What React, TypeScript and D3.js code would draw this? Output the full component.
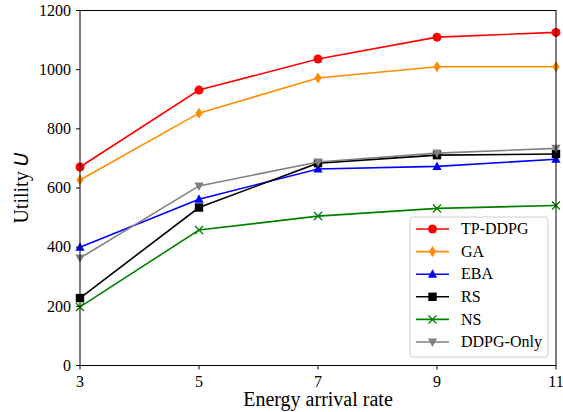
import React from "react";
import * as d3 from "d3";

const xValues = [3, 5, 7, 9, 11];
const tpDdpg = [671, 931, 1036, 1110, 1126];
const ga = [627, 853, 972, 1010, 1010];
const eba = [400, 562, 664, 673, 697];
const rs = [228, 534, 684, 711, 715];
const ns = [198, 458, 505, 531, 541];
const ddpgOnly = [363, 607, 688, 718, 734];
const yTicks = [0, 200, 400, 600, 800, 1000, 1200];
const xTicks = [3, 5, 7, 9, 11];

const seriesNames = ["TP-DDPG", "GA", "EBA", "RS", "NS", "DDPG-Only"];
const seriesData = [tpDdpg, ga, eba, rs, ns, ddpgOnly];
const seriesColors = ["#ff0000", "#ff8c00", "#0000ff", "#000000", "#008000", "#808080"];
const seriesMarkers = ["circle", "diamond", "triangle", "square", "x", "tri_down"];

const W = 563, H = 412;
const L = 80, R = 556, T = 10.5, B = 365.5;
const FONT = "'Liberation Serif', 'DejaVu Serif', serif";

function Marker({ type, x, y, color }: { type: string; x: number; y: number; color: string }) {
  switch (type) {
    case "circle":
      return <circle cx={x} cy={y} r={4.5} fill={color} />;
    case "diamond":
      return <path d={`M${x},${y - 5.5}L${x + 3.6},${y}L${x},${y + 5.5}L${x - 3.6},${y}Z`} fill={color} />;
    case "triangle":
      return <path d={`M${x},${y - 5}L${x + 4.6},${y + 3.5}L${x - 4.6},${y + 3.5}Z`} fill={color} />;
    case "tri_down":
      return <path d={`M${x},${y + 5}L${x + 4.6},${y - 3.5}L${x - 4.6},${y - 3.5}Z`} fill={color} />;
    case "square":
      return <rect x={x - 4.2} y={y - 4.2} width={8.4} height={8.4} fill={color} />;
    case "x":
      return (
        <path d={`M${x - 4},${y - 4}L${x + 4},${y + 4}M${x - 4},${y + 4}L${x + 4},${y - 4}`} stroke={color} strokeWidth={1.4} fill="none" />
      );
    default:
      return null;
  }
}

export default function App() {
  const xs = d3.scaleLinear().domain([3, 11]).range([L, R]);
  const ys = d3.scaleLinear().domain([0, 1200]).range([B, T]);
  const line = d3
    .line<number>()
    .x((_, i) => xs(xValues[i]))
    .y((d) => ys(d));

  const legX = 410, legY = 217, legW = 138, legH = 140;
  const rowY0 = 229, rowStep = 22.6;

  return (
    <svg width={W} height={H} style={{ position: "absolute", left: 0, top: 0 }} fontFamily={FONT}>
      <rect width={W} height={H} fill="#fff" />
      {seriesData.map((s, si) => (
        <g key={si}>
          <path d={line(s) || ""} fill="none" stroke={seriesColors[si]} strokeWidth={1.6} />
          {s.map((v, i) => (
            <Marker key={i} type={seriesMarkers[si]} x={xs(xValues[i])} y={ys(v)} color={seriesColors[si]} />
          ))}
        </g>
      ))}
      <rect x={L} y={T} width={R - L} height={B - T} fill="none" stroke="#000" strokeWidth={1} />
      {yTicks.map((t) => (
        <g key={t}>
          <line x1={L - 4} x2={L} y1={ys(t)} y2={ys(t)} stroke="#000" />
          <text x={L - 9} y={ys(t)} dy="0.33em" textAnchor="end" fontSize={16}>
            {t}
          </text>
        </g>
      ))}
      {xTicks.map((t) => (
        <g key={t}>
          <line x1={xs(t)} x2={xs(t)} y1={B} y2={B + 4} stroke="#000" />
          <text x={xs(t)} y={B + 21} textAnchor="middle" fontSize={16}>
            {t}
          </text>
        </g>
      ))}
      <text x={(L + R) / 2} y={406} textAnchor="middle" fontSize={20}>
        Energy arrival rate
      </text>
      <text transform={`translate(28,${(T + B) / 2}) rotate(-90)`} textAnchor="middle" fontSize={20}>
        Utility <tspan fontStyle="italic" fontFamily="'DejaVu Sans', sans-serif" fontSize={19}>U</tspan>
      </text>
      <rect x={legX} y={legY} width={legW} height={legH} rx={3} fill="#fff" fillOpacity={0.8} stroke="#d0d0d0" />
      {seriesNames.map((n, i) => {
        const y = rowY0 + i * rowStep;
        return (
          <g key={n}>
            <line x1={416} x2={449} y1={y} y2={y} stroke={seriesColors[i]} strokeWidth={1.6} />
            <Marker type={seriesMarkers[i]} x={432.5} y={y} color={seriesColors[i]} />
            <text x={461} y={y} dy="0.33em" fontSize={16}>
              {n}
            </text>
          </g>
        );
      })}
    </svg>
  );
}
